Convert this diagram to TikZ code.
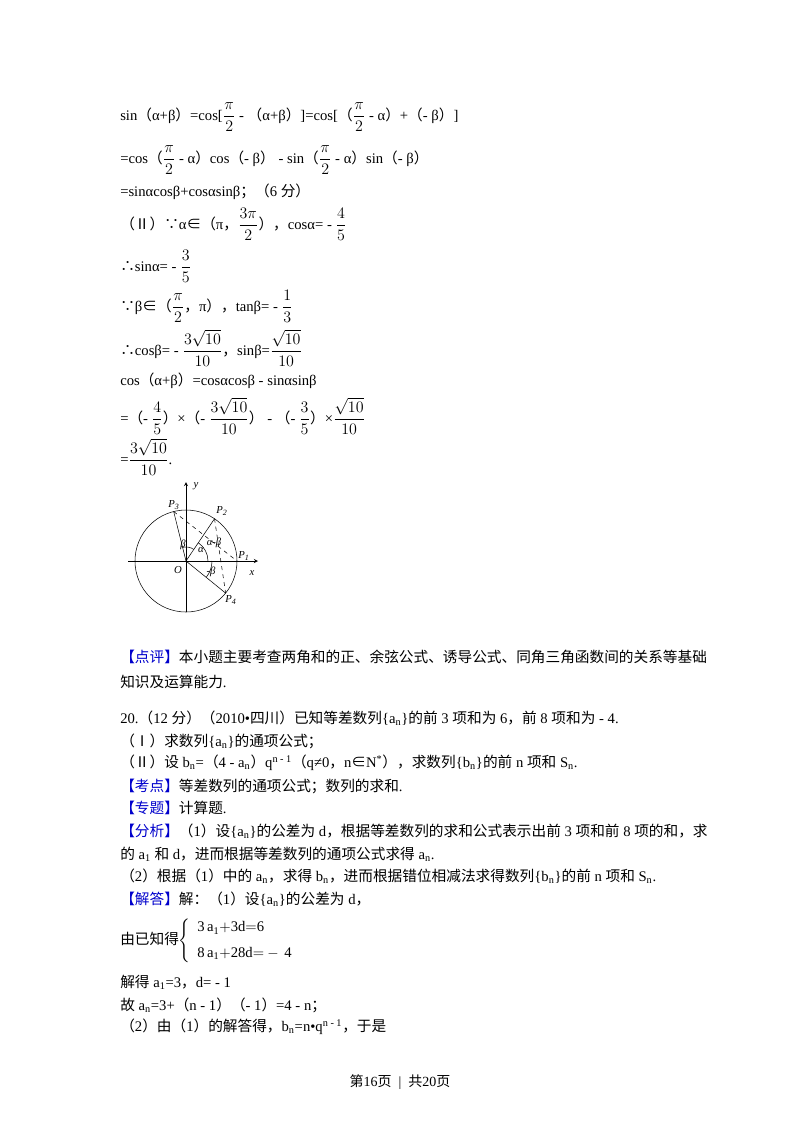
\documentclass[tikz,border=0pt]{standalone}
\usepackage{amsmath}
\usepackage{fontspec}
\setmainfont{Liberation Serif}
\newfontfamily\cj{Noto Sans CJK SC}
\newcommand{\C}[1]{{\cj #1}}
\newcommand{\B}[1]{{\cj\color{blue!80!black}#1}}
\newcommand{\F}[2]{{\fontsize{12.5}{14}\selectfont$\dfrac{#1}{#2}$}}
\begin{document}
\begin{tikzpicture}[x=0.75pt,y=-0.75pt,
  ln/.style={anchor=west,inner sep=0pt,font=\fontsize{11}{13}\selectfont},
  pt/.style={font=\fontsize{8}{9}\itshape\selectfont,inner sep=1pt}]
\useasboundingbox (0,0) rectangle (800,1132);
\fill[white] (0,0) rectangle (800,1132);
\node[ln] (l1) at (120,117) {sin\C{（}α+β\C{）}=cos[\F{\pi}{2} - \C{（}α+β\C{）}]=cos[\C{（}\F{\pi}{2} - α\C{）}+\C{（}- β\C{）}]};
\node[ln] (l2) at (120,160) {=cos\C{（}\F{\pi}{2} - α\C{）}cos\C{（}- β\C{）} - sin\C{（}\F{\pi}{2} - α\C{）}sin\C{（}- β\C{）}};
\node[ln] (l3) at (120,192) {=sinαcosβ+cosαsinβ\C{；（}6 \C{分）}};
\node[ln] (l4) at (120,224) {\C{（Ⅱ）∵}α\C{∈（}π\C{，}\F{3\pi}{2}\C{），}cosα= - \F{4}{5}};
\node[ln] (l5) at (120,266) {\C{∴}sinα= - \F{3}{5}};
\node[ln] (l6) at (120,306) {\C{∵}β\C{∈（}\F{\pi}{2}\C{，}π\C{），}tanβ= - \F{1}{3}};
\node[ln] (l7) at (120,348) {\C{∴}cosβ= - \F{3\sqrt{10}}{10}\C{，}sinβ=\F{\sqrt{10}}{10}};
\node[ln] (l8) at (120,381) {cos\C{（}α+β\C{）}=cosαcosβ - sinαsinβ};
\node[ln] (l9) at (120,416) {=\C{（}- \F{4}{5}\C{）}×\C{（}- \F{3\sqrt{10}}{10}\C{）} - \C{（}- \F{3}{5}\C{）}×\F{\sqrt{10}}{10}};
\node[ln] (l10) at (120,457) {=\F{3\sqrt{10}}{10}.};
% figure
\coordinate (O) at (186,561);
\draw[thin] (O) circle (51);
\draw[->,>=stealth,thin] (128,561) -- (258,561);
\draw[->,>=stealth,thin] (186,612) -- (186,482);
\coordinate (P1) at (237,561);
\path (O) ++(-56:51) coordinate (P2);
\path (O) ++(-104:51) coordinate (P3);
\path (O) ++(39:51) coordinate (P4);
\draw[thin] (O) -- (P2);
\draw[thin] (O) -- (P3);
\draw[thin] (O) -- (P4);
\draw[thin,dashed] (P3) -- (P1);
\draw[thin,dashed] (P2) -- (P4);
\draw[thin] (O) ++(-56:14) arc (-56:-104:14);
\draw[thin] (O) ++(0:22) arc (0:-56:22);
\draw[thin] (O) ++(39:26) arc (39:0:26);
\node[pt] (nO) at (178,570) {O};
\node[pt] (ny) at (196,486) {y};
\node[pt] (nx) at (252,573) {x};
\node[pt] (n1) at (244,556) {P\textsubscript{1}};
\node[pt] (n2) at (222,511) {P\textsubscript{2}};
\node[pt] (n3) at (174,505) {P\textsubscript{3}};
\node[pt] (n4) at (231,600) {P\textsubscript{4}};
\node[pt] (nb) at (183,545) {β};
\node[pt] (na) at (201,550) {α};
\node[pt] (nab) at (214,543) {α-β};
\node[pt] (nmb) at (211,572) {-β};
% text
\node[ln] (t1) at (120,657) {\B{【点评】}\C{本小题主要考查两角和的正、余弦公式、诱导公式、同角三角函数间的关系等基础}};
\node[ln] (t2) at (120,682) {\C{知识及运算能力}.};
\node[ln] (t3) at (120,718) {20.\C{（}12 \C{分）（}2010•\C{四川）已知等差数列}\{a\textsubscript{n}\}\C{的前} 3 \C{项和为} 6\C{，前} 8 \C{项和为} - 4.};
\node[ln] (t4) at (120,741) {\C{（Ⅰ）求数列}\{a\textsubscript{n}\}\C{的通项公式；}};
\node[ln] (t5) at (120,763) {\C{（Ⅱ）设} b\textsubscript{n}=\C{（}4 - a\textsubscript{n}\C{）}q\textsuperscript{n - 1}\C{（}q≠0\C{，}n\C{∈}N\textsuperscript{*}\C{），求数列}\{b\textsubscript{n}\}\C{的前} n \C{项和} S\textsubscript{n}.};
\node[ln] (t6) at (120,786) {\B{【考点】}\C{等差数列的通项公式；数列的求和}.};
\node[ln] (t7) at (120,808) {\B{【专题】}\C{计算题}.};
\node[ln] (t8) at (120,831) {\B{【分析】}\C{（}1\C{）设}\{a\textsubscript{n}\}\C{的公差为} d\C{，根据等差数列的求和公式表示出前} 3 \C{项和前} 8 \C{项的和，求}};
\node[ln] (t9) at (120,854) {\C{的} a\textsubscript{1} \C{和} d\C{，进而根据等差数列的通项公式求得} a\textsubscript{n}.};
\node[ln] (t10) at (120,876) {\C{（}2\C{）根据（}1\C{）中的} a\textsubscript{n}\C{，求得} b\textsubscript{n}\C{，进而根据错位相减法求得数列}\{b\textsubscript{n}\}\C{的前} n \C{项和} S\textsubscript{n}.};
\node[ln] (t11) at (120,899) {\B{【解答】}\C{解：（}1\C{）设}\{a\textsubscript{n}\}\C{的公差为} d\C{，}};
\node[ln] (t12) at (120,941) {\C{由已知得}$\left\{\begin{array}{l}\mathrm{3\,a_1{+}3d{=}6}\\[6pt] \mathrm{8\,a_1{+}28d{=}-\,4}\end{array}\right.$};
\node[ln] (t13) at (120,982) {\C{解得} a\textsubscript{1}=3\C{，}d= - 1};
\node[ln] (t14) at (120,1005) {\C{故} a\textsubscript{n}=3+\C{（}n - 1\C{）（}- 1\C{）}=4 - n\C{；}};
\node[ln] (t15) at (120,1027) {\C{（}2\C{）由（}1\C{）的解答得，}b\textsubscript{n}=n•q\textsuperscript{n - 1}\C{，于是}};
\node[inner sep=0pt,font=\fontsize{10.5}{12}\selectfont] (ft) at (400,1082) {\C{第}16\C{页} \ | \ \C{共}20\C{页}};
\end{tikzpicture}
\end{document}
